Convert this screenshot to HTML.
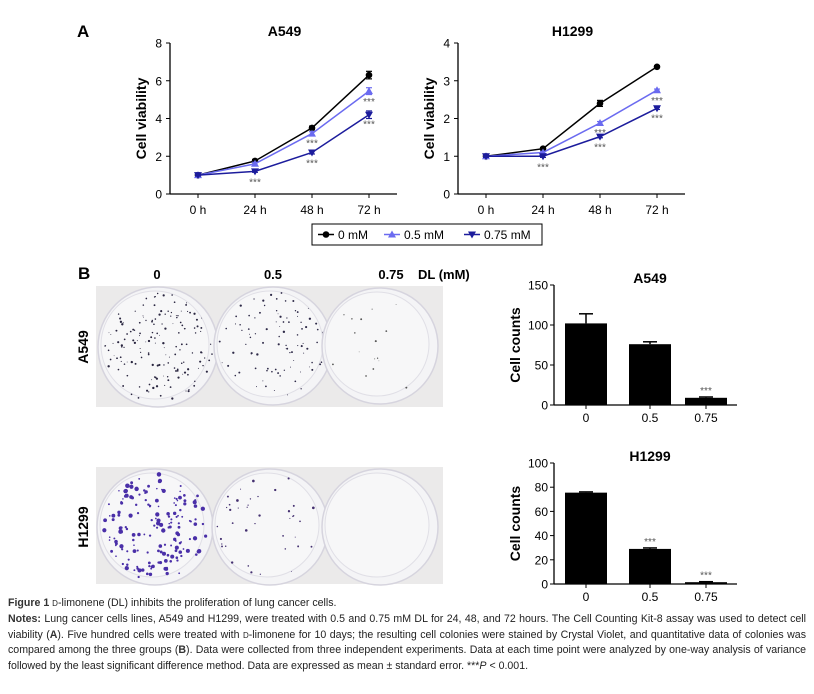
<!DOCTYPE html>
<html><head><meta charset="utf-8">
<style>
body{margin:0;background:#fff;width:814px;height:694px;overflow:hidden;font-family:"Liberation Sans",sans-serif;}
svg{position:absolute;left:0;top:0;}
#cap{position:absolute;left:8px;top:596px;width:798px;font-family:"Liberation Sans Narrow","Liberation Sans",sans-serif;font-size:10.6px;line-height:15.8px;color:#222;text-align:justify;}
#cap b{color:#333}
</style></head><body>
<svg id="fig" width="814" height="694"></svg>
<div id="cap"><b>Figure 1</b> <span style="font-size:8px">D</span>-limonene (DL) inhibits the proliferation of lung cancer cells.<br><b>Notes:</b> Lung cancer cells lines, A549 and H1299, were treated with 0.5 and 0.75 mM DL for 24, 48, and 72 hours. The Cell Counting Kit-8 assay was used to detect cell viability (<b>A</b>). Five hundred cells were treated with <span style="font-size:8px">D</span>-limonene for 10 days; the resulting cell colonies were stained by Crystal Violet, and quantitative data of colonies was compared among the three groups (<b>B</b>). Data were collected from three independent experiments. Data at each time point were analyzed by one-way analysis of variance followed by the least significant difference method. Data are expressed as mean ± standard error. ***<i>P</i> &lt; 0.001.</div>
<script>
const timeLabels=["0 h","24 h","48 h","72 h"];
const seriesNames=["0 mM","0.5 mM","0.75 mM"];
const a549_0=[1,1.75,3.5,6.3];
const a549_05=[1,1.6,3.2,5.45];
const a549_075=[1,1.2,2.2,4.2];
const a549_err0=[0.05,0.08,0.1,0.2];
const a549_err05=[0.05,0.08,0.1,0.18];
const a549_err075=[0.05,0.05,0.08,0.2];
const h1299_0=[1,1.2,2.4,3.37];
const h1299_05=[1,1.1,1.88,2.75];
const h1299_075=[1,1.0,1.52,2.27];
const h1299_err0=[0.03,0.03,0.08,0.03];
const h1299_err05=[0.03,0.03,0.04,0.03];
const h1299_err075=[0.03,0.03,0.03,0.03];
const a549Ticks=[0,2,4,6,8];
const h1299Ticks=[0,1,2,3,4];
const doseLabels=["0","0.5","0.75"];
const barA549=[102,76,9];
const barA549Err=[12,3,1];
const barA549Ticks=[0,50,100,150];
const barH1299=[75.5,29,1.5];
const barH1299Err=[0.6,0.8,0.4];
const barH1299Ticks=[0,20,40,60,80,100];

const NS="http://www.w3.org/2000/svg";
const svg=document.getElementById('fig');
function mk(tag,attrs,parent){const e=document.createElementNS(NS,tag);for(const k in attrs)e.setAttribute(k,attrs[k]);(parent||svg).appendChild(e);return e;}
function txt(s,x,y,attrs,parent){const t=mk('text',Object.assign({x:x,y:y,'font-family':'Liberation Sans, sans-serif'},attrs),parent);t.textContent=s;return t;}

let l=txt("A",77,37,{'font-size':17,'font-weight':'bold'});


l=txt("B",78,279,{'font-size':17,'font-weight':'bold'});



const colors=["#000","#6b6bf0","#1c1c9c"];
function lineChart(name,title,x0,ticks,datasets,errs,stars){
  const g=mk('g',{});
  
  
  const top=43,bot=194,x1=x0+28,dx=57,ymax=ticks[ticks.length-1];
  const X=i=>x1+i*dx, Y=v=>bot-(v/ymax)*(bot-top);
  let t=txt(title,x0+(x1+3*dx-x0)/2+15,36,{'font-size':14,'font-weight':'bold','text-anchor':'middle'},g);
  
  
  mk('line',{x1:x0,y1:top,x2:x0,y2:bot,stroke:'#000','stroke-width':1.3},g);
  mk('line',{x1:x0,y1:bot,x2:x0+227,y2:bot,stroke:'#000','stroke-width':1.3},g);
  ticks.forEach(v=>{mk('line',{x1:x0-4,y1:Y(v),x2:x0,y2:Y(v),stroke:'#000'},g);
    const tt=txt(String(v),x0-8,Y(v)+4.5,{'font-size':12,'text-anchor':'end'},g);
    
    });
  timeLabels.forEach((s,i)=>{mk('line',{x1:X(i),y1:bot,x2:X(i),y2:bot+4,stroke:'#000'},g);
    const tt=txt(s,X(i),bot+20,{'font-size':12,'text-anchor':'middle'},g);
    
    });
  const yt=txt("Cell viability",0,0,{'font-size':14,'font-weight':'bold','text-anchor':'middle',transform:`translate(${x0-24},${(top+bot)/2}) rotate(-90)`},g);
  
  
  datasets.forEach((d,si)=>{
    const p=mk('polyline',{points:d.map((v,i)=>X(i)+','+Y(v)).join(' '),fill:'none',stroke:colors[si],'stroke-width':1.5},g);
    
    
    d.forEach((v,i)=>{
      const e=errs[si][i];
      mk('line',{x1:X(i),y1:Y(v+e),x2:X(i),y2:Y(v-e),stroke:colors[si],'stroke-width':1.2},g);
      mk('line',{x1:X(i)-3,y1:Y(v+e),x2:X(i)+3,y2:Y(v+e),stroke:colors[si],'stroke-width':1.2},g);
      mk('line',{x1:X(i)-3,y1:Y(v-e),x2:X(i)+3,y2:Y(v-e),stroke:colors[si],'stroke-width':1.2},g);
      let m;
      if(si==0)m=mk('circle',{cx:X(i),cy:Y(v),r:3.3,fill:colors[0]},g);
      else if(si==1)m=mk('polygon',{points:`${X(i)-4},${Y(v)+3} ${X(i)+4},${Y(v)+3} ${X(i)},${Y(v)-4}`,fill:colors[1]},g);
      else m=mk('polygon',{points:`${X(i)-4},${Y(v)-3} ${X(i)+4},${Y(v)-3} ${X(i)},${Y(v)+4}`,fill:colors[2]},g);
      
      
    });
  });
  stars.forEach(s=>{const st=txt("***",X(s[0]),Y(datasets[s[1]][s[0]])+s[2],{'font-size':10,fill:'#555','text-anchor':'middle'},g);
    
    });
}
lineChart('a549','A549',170,a549Ticks,[a549_0,a549_05,a549_075],[a549_err0,a549_err05,a549_err075],[[1,2,14],[2,1,13],[2,2,14],[3,1,14],[3,2,13]]);
lineChart('h1299','H1299',458,h1299Ticks,[h1299_0,h1299_05,h1299_075],[h1299_err0,h1299_err05,h1299_err075],[[1,2,14],[2,1,13],[2,2,14],[3,1,14],[3,2,13]]);

const lg=mk('g',{});


mk('rect',{x:312,y:224,width:230,height:21,fill:'#fff',stroke:'#000','stroke-width':1},lg);
const lx=[318,384,464];
seriesNames.forEach((s,i)=>{
  const x=lx[i],y=234.5;
  mk('line',{x1:x,y1:y,x2:x+16,y2:y,stroke:colors[i],'stroke-width':1.5},lg);
  if(i==0)mk('circle',{cx:x+8,cy:y,r:3.3,fill:colors[0]},lg);
  else if(i==1)mk('polygon',{points:`${x+4},${y+3} ${x+12},${y+3} ${x+8},${y-4}`,fill:colors[1]},lg);
  else mk('polygon',{points:`${x+4},${y-3} ${x+12},${y-3} ${x+8},${y+4}`,fill:colors[2]},lg);
  const t=txt(s,x+20,y+4.5,{'font-size':12},lg);
  
  
});

function lcg(seed){let s=seed;return()=>{s=(s*1103515245+12345)%2147483648;return s/2147483648;};}
function photo(name,y0,y1,dishes){
  const g=mk('g',{});
  
  
  mk('rect',{x:96,y:y0,width:347,height:y1-y0,fill:'#ebeaea'},g);
  dishes.forEach(d=>{
    mk('circle',{cx:d.cx,cy:d.cy,r:d.r+2,fill:'#f4f4f6',stroke:'#d6d4de','stroke-width':1.5},g);
    mk('circle',{cx:d.cx-3,cy:d.cy-2,r:d.r-4,fill:'#f7f7f8',stroke:'#e0dfe6','stroke-width':1},g);
    const rnd=lcg(d.seed);
    for(let k=0;k<d.n;k++){
      const a=rnd()*Math.PI*2,rr=Math.sqrt(rnd())*(d.r-3);
      mk('circle',{cx:d.cx+Math.cos(a)*rr,cy:d.cy+Math.sin(a)*rr,r:d.size*(0.5+rnd()),fill:d.col},g);
    }
  });
}
photo('a549',286,407,[{cx:158,cy:347,r:58,n:160,size:0.8,col:'#2a2640',seed:3},{cx:273,cy:346,r:57,n:90,size:0.8,col:'#2e2a48',seed:7},{cx:380,cy:346,r:56,n:16,size:0.7,col:'#555',seed:11}]);
photo('h1299',467,584,[{cx:155,cy:527,r:56,n:170,size:1.5,col:'#4a2fa8',seed:5},{cx:270,cy:527,r:56,n:40,size:0.9,col:'#443070',seed:9},{cx:380,cy:527,r:56,n:0,size:1,col:'#000',seed:2}]);
[["0",157],["0.5",273],["0.75",391]].forEach(a=>{const t=txt(a[0],a[1],279,{'font-size':13,'font-weight':'bold','text-anchor':'middle'});
  
  });
l=txt("DL (mM)",418,279,{'font-size':13,'font-weight':'bold'});


[["A549",347],["H1299",527]].forEach(a=>{const t=txt(a[0],0,0,{'font-size':14,'font-weight':'bold','text-anchor':'middle',transform:`translate(88,${a[1]}) rotate(-90)`});
  
  });

function barChart(name,title,top,bot,ticks,vals,errs,stars){
  const g=mk('g',{});
  
  
  const x0=554,ymax=ticks[ticks.length-1],cx=[586,650,706];
  const Y=v=>bot-(v/ymax)*(bot-top);
  let t=txt(title,650,top-2,{'font-size':14,'font-weight':'bold','text-anchor':'middle'},g);
  
  
  mk('line',{x1:x0,y1:top,x2:x0,y2:bot,stroke:'#000','stroke-width':1.3},g);
  mk('line',{x1:x0,y1:bot,x2:737,y2:bot,stroke:'#000','stroke-width':1.3},g);
  ticks.forEach(v=>{mk('line',{x1:x0-4,y1:Y(v),x2:x0,y2:Y(v),stroke:'#000'},g);
    const tt=txt(String(v),x0-6,Y(v)+4.5,{'font-size':12,'text-anchor':'end'},g);
    
    });
  const yt=txt("Cell counts",0,0,{'font-size':14,'font-weight':'bold','text-anchor':'middle',transform:`translate(${x0-34},${(top+bot)/2}) rotate(-90)`},g);
  
  
  vals.forEach((v,i)=>{
    const e=errs[i];
    mk('line',{x1:cx[i],y1:Y(v),x2:cx[i],y2:Y(v+e),stroke:'#000','stroke-width':1.5},g);
    mk('line',{x1:cx[i]-7,y1:Y(v+e),x2:cx[i]+7,y2:Y(v+e),stroke:'#000','stroke-width':1.5},g);
    const b=mk('rect',{x:cx[i]-21,y:Y(v),width:42,height:bot-Y(v),fill:'#000'},g);
    
    
    mk('line',{x1:cx[i],y1:bot,x2:cx[i],y2:bot+4,stroke:'#000'},g);
    const xl=txt(doseLabels[i],cx[i],bot+17,{'font-size':12,'text-anchor':'middle'},g);
    
    
    if(stars[i]){const st=txt("***",cx[i],Y(v+e)-3,{'font-size':10,fill:'#555','text-anchor':'middle'},g);
      
      }
  });
}
barChart('a549','A549',285,405,barA549Ticks,barA549,barA549Err,[0,0,1]);
barChart('h1299','H1299',463,584,barH1299Ticks,barH1299,barH1299Err,[0,1,1]);
</script>
</body></html>
